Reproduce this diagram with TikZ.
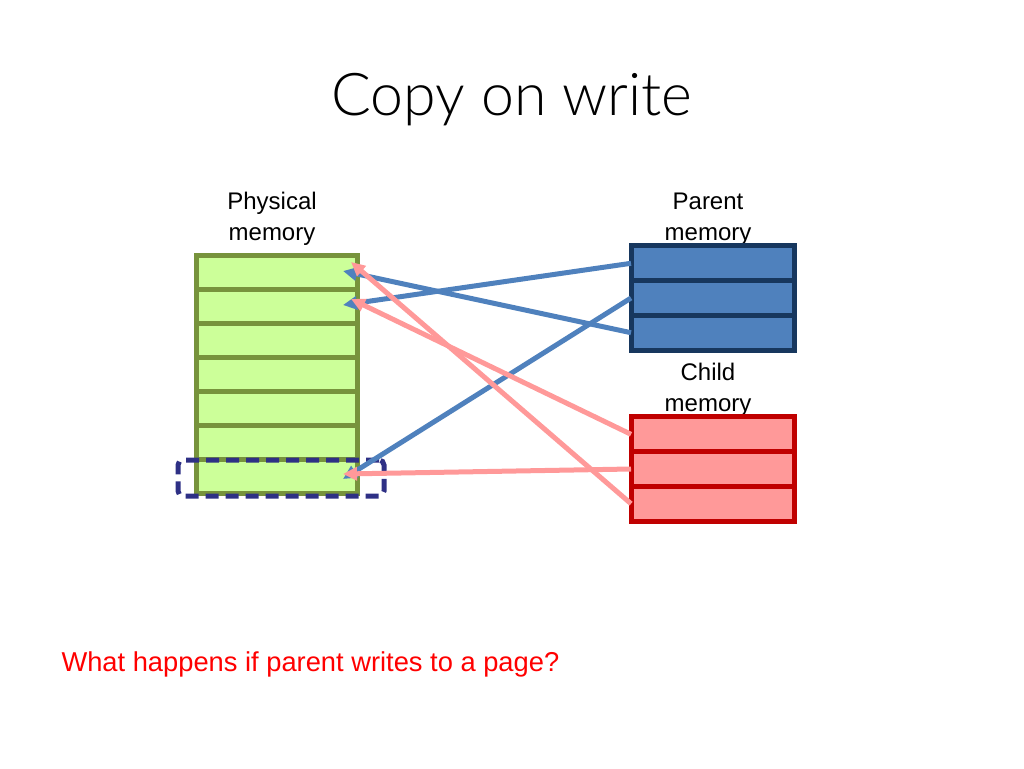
\documentclass[tikz,border=0pt]{standalone}
\usepackage{fontspec}
\setmainfont{Liberation Sans}
\newfontfamily\titlefont{Lato Light}
\usetikzlibrary{arrows.meta}
\definecolor{physfill}{HTML}{CCFF99}
\definecolor{physline}{HTML}{77933C}
\definecolor{parfill}{HTML}{4F81BD}
\definecolor{parline}{HTML}{17375E}
\definecolor{chfill}{HTML}{FF9999}
\definecolor{chline}{HTML}{C00000}
\definecolor{dashc}{HTML}{2E3085}
\definecolor{qred}{HTML}{FF0000}
\tikzset{
  physrow/.style={draw=physline, fill=physfill, line width=5pt, minimum width=161pt, minimum height=34pt, inner sep=0pt, outer sep=0pt},
  parrow/.style={draw=parline, fill=parfill, line width=5pt, minimum width=163pt, minimum height=34.7pt, inner sep=0pt, outer sep=0pt},
  chrow/.style={draw=chline, fill=chfill, line width=5pt, minimum width=163pt, minimum height=34.7pt, inner sep=0pt, outer sep=0pt},
  lbl/.style={font=\fontsize{24}{31}\selectfont, align=center, text=black},
  bluearr/.style={draw=parfill, line width=5pt, -{Triangle[length=14pt,width=13pt]}},
  pinkarr/.style={draw=chfill, line width=5pt, -{Triangle[length=14pt,width=13pt]}},
}
\begin{document}
\begin{tikzpicture}[x=1pt,y=-1pt]
\useasboundingbox (0,0) rectangle (1024,768);
\node[font=\titlefont\fontsize{59}{68}\selectfont] (title) at (512,100) {Copy on write};
\node[lbl] (lphys) at (272,219) {Physical\\memory};
\node[lbl] (lpar) at (708,219) {Parent\\memory};
\node[lbl] (lch) at (708,390) {Child\\memory};
% physical memory
\foreach \i/\y in {1/272,2/306,3/340,4/374,5/408,6/442,7/476}
  \node[physrow] (f\i) at (276.5,\y) {};
% parent memory
\foreach \i/\y in {1/263.3,2/298,3/332.7}
  \node[parrow] (p\i) at (712.5,\y) {};
% child memory
\foreach \i/\y in {1/434.3,2/469,3/503.7}
  \node[chrow] (c\i) at (712.5,\y) {};
% dashed selection
\node[draw=dashc, line width=5pt, dash pattern=on 13pt off 7pt, rounded corners=5pt, minimum width=206pt, minimum height=36pt, inner sep=0pt] (sel) at (281,478) {};
% arrows
\draw[bluearr] (p3.west) -- ([xshift=-14pt,yshift=1pt]f1.east);
\draw[bluearr] (p1.west) -- ([xshift=-14pt,yshift=1pt]f2.east);
\draw[bluearr] (p2.west) -- ([xshift=-14pt,yshift=-3pt]f7.east);
\draw[pinkarr] (c3.west) -- ([xshift=-6pt,yshift=10pt]f1.east);
\draw[pinkarr] (c1.west) -- ([xshift=-6pt,yshift=7pt]f2.east);
\draw[pinkarr] (c2.west) -- ([xshift=-14pt,yshift=2pt]f7.east);
\node[font=\fontsize{27.3}{31}\selectfont, text=qred, anchor=west] (q) at (58,664) {What happens if parent writes to a page?};
\end{tikzpicture}
\end{document}
